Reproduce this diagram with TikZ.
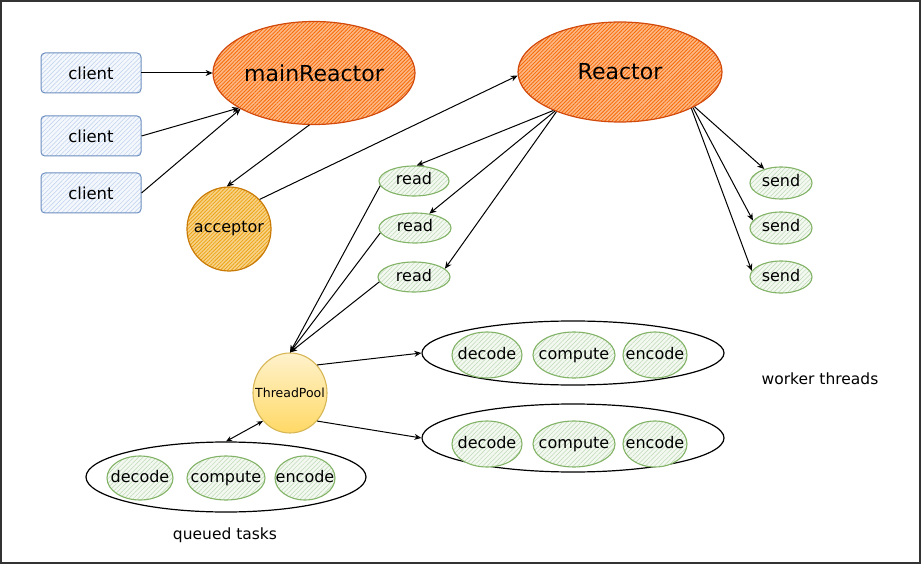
\documentclass[tikz,border=0pt]{standalone}
\usepackage{fontspec}
\setmainfont{DejaVu Sans}
\usetikzlibrary{shapes.geometric,arrows.meta,patterns.meta}
\definecolor{clBorder}{HTML}{6C8EBF}
\definecolor{clFill}{HTML}{F4F8FD}
\definecolor{clHatch}{HTML}{BCD0EE}
\definecolor{orBorder}{HTML}{D2490C}
\definecolor{orFill}{HTML}{FCB887}
\definecolor{orHatch}{HTML}{F76B06}
\definecolor{acBorder}{HTML}{C97A06}
\definecolor{acFill}{HTML}{F7D28A}
\definecolor{acHatch}{HTML}{EDA414}
\definecolor{gnBorder}{HTML}{82B366}
\definecolor{gnFill}{HTML}{F3F8F1}
\definecolor{gnHatch}{HTML}{BDD9B4}
\definecolor{tpBorder}{HTML}{D6B656}
\definecolor{tpTop}{HTML}{FFF2CC}
\definecolor{tpBot}{HTML}{FFD966}
\definecolor{frameCol}{HTML}{333333}
\newcommand{\ctxt}[1]{\makebox[0pt][c]{#1}}
\tikzset{
  client/.style={draw=clBorder, line width=1pt, rounded corners=4pt,
    preaction={fill=clFill},
    pattern={Lines[angle=45,distance=3.2pt,line width=0.5pt]}, pattern color=clHatch,
    minimum width=100pt, minimum height=40pt, inner sep=0pt, font=\fontsize{16.5}{19}\selectfont},
  reactor/.style={ellipse, draw=orBorder, line width=1.2pt,
    preaction={fill=orFill},
    pattern={Lines[angle=45,distance=2.6pt,line width=0.8pt]}, pattern color=orHatch,
    inner sep=0pt, font=\fontsize{22}{25}\selectfont},
  accstyle/.style={circle, draw=acBorder, line width=1.2pt,
    preaction={fill=acFill},
    pattern={Lines[angle=45,distance=2.6pt,line width=0.8pt]}, pattern color=acHatch,
    minimum size=84pt, inner sep=0pt, font=\fontsize{16}{19}\selectfont},
  task/.style={ellipse, draw=gnBorder, line width=1.1pt,
    preaction={fill=gnFill},
    pattern={Lines[angle=45,distance=3.2pt,line width=0.5pt]}, pattern color=gnHatch,
    inner sep=0pt, text height=11pt, text depth=3pt, font=\fontsize{16}{19}\selectfont},
  bigell/.style={ellipse, draw=black, line width=1.2pt, fill=white, inner sep=0pt},
  tpstyle/.style={ellipse, draw=tpBorder, line width=1.1pt, top color=tpTop, bottom color=tpBot,
    minimum width=74pt, minimum height=80pt, inner sep=0pt, font=\fontsize{12.5}{15}\selectfont},
  conn/.style={draw=black, line width=1pt, -{Stealth[open,length=7pt,width=6pt]}},
  label/.style={font=\fontsize{15.5}{18}\selectfont}
}
\begin{document}
\begin{tikzpicture}[x=1pt,y=-1pt]
\useasboundingbox (0,0) rectangle (921,564);
\draw[frameCol, line width=2pt] (1,1) rectangle (920,563);

% clients
\node[client] (c1) at (91,73) {client};
\node[client] (c2) at (91,136) {client};
\node[client] (c3) at (91,193) {client};

% reactors
\node[reactor, minimum width=202pt, minimum height=103pt] (mr) at (314,73) {\ctxt{mainReactor}};
\node[reactor, minimum width=204pt, minimum height=100pt] (re) at (620,72) {\ctxt{Reactor}};

% acceptor
\node[accstyle] (acc) at (229,229) {\ctxt{acceptor}};

% reads and sends
\node[task, minimum width=70pt, minimum height=30pt] (r1) at (414,181) {\ctxt{read}};
\node[task, minimum width=72pt, minimum height=30pt] (r2) at (415,228) {\ctxt{read}};
\node[task, minimum width=72pt, minimum height=30pt] (r3) at (414,277) {\ctxt{read}};
\node[task, minimum width=62pt, minimum height=32pt] (s1) at (781,183) {\ctxt{send}};
\node[task, minimum width=62pt, minimum height=32pt] (s2) at (781,228) {\ctxt{send}};
\node[task, minimum width=62pt, minimum height=32pt] (s3) at (781,277) {\ctxt{send}};

% thread pool
\node[tpstyle] (tp) at (290,393) {\ctxt{ThreadPool}};

% worker ellipses
\node[bigell, minimum width=302pt, minimum height=64pt] (w1) at (573,353) {};
\node[bigell, minimum width=302pt, minimum height=68pt] (w2) at (573,438) {};
\node[task, minimum width=70pt, minimum height=46pt] (d1) at (487,355) {\ctxt{decode}};
\node[task, minimum width=82pt, minimum height=46pt] (cp1) at (574,355) {\ctxt{compute}};
\node[task, minimum width=64pt, minimum height=46pt] (e1) at (655,355) {\ctxt{encode}};
\node[task, minimum width=70pt, minimum height=46pt] (d2) at (487,444) {\ctxt{decode}};
\node[task, minimum width=82pt, minimum height=46pt] (cp2) at (574,444) {\ctxt{compute}};
\node[task, minimum width=64pt, minimum height=46pt] (e2) at (655,444) {\ctxt{encode}};

% queued tasks
\node[bigell, minimum width=280pt, minimum height=70pt] (q) at (226,477) {};
\node[task, minimum width=66pt, minimum height=44pt] (qd) at (140,478) {\ctxt{decode}};
\node[task, minimum width=78pt, minimum height=44pt] (qc) at (226,478) {\ctxt{compute}};
\node[task, minimum width=60pt, minimum height=44pt] (qe) at (305,478) {\ctxt{encode}};

\node[label] (lq) at (225,535) {queued tasks};
\node[label] (lw) at (820,379) {worker threads};

% connectors
\draw[conn] (c1.east) -- (mr.west);
\draw[conn] (c2.east) -- (mr.205);
\draw[conn] (c3.east) -- (mr.206);
\draw[conn] (mr.265) -- (acc.93);
\draw[conn] (acc.44) -- (re.182);
\draw[conn] (re.210) -- (r1.80);
\draw[conn] (re.211) -- (r2.45);
\draw[conn] (re.212) -- (r3.15);
\draw[conn] (re.-25) -- (s1.140);
\draw[conn] (re.-26) -- (s2.165);
\draw[conn] (re.-27) -- (s3.168);
\draw[conn] (r1.188) -- (tp.north);
\draw[conn] (r2.188) -- (tp.north);
\draw[conn] (r3.188) -- (tp.north);
\draw[conn] (tp.46) -- (w1.west);
\draw[conn] (tp.-46) -- (w2.west);
\draw[draw=black, line width=1pt, {Stealth[length=6pt,width=5pt]}-{Stealth[length=6pt,width=5pt]}] (tp.226) -- (q.north);
\end{tikzpicture}
\end{document}
